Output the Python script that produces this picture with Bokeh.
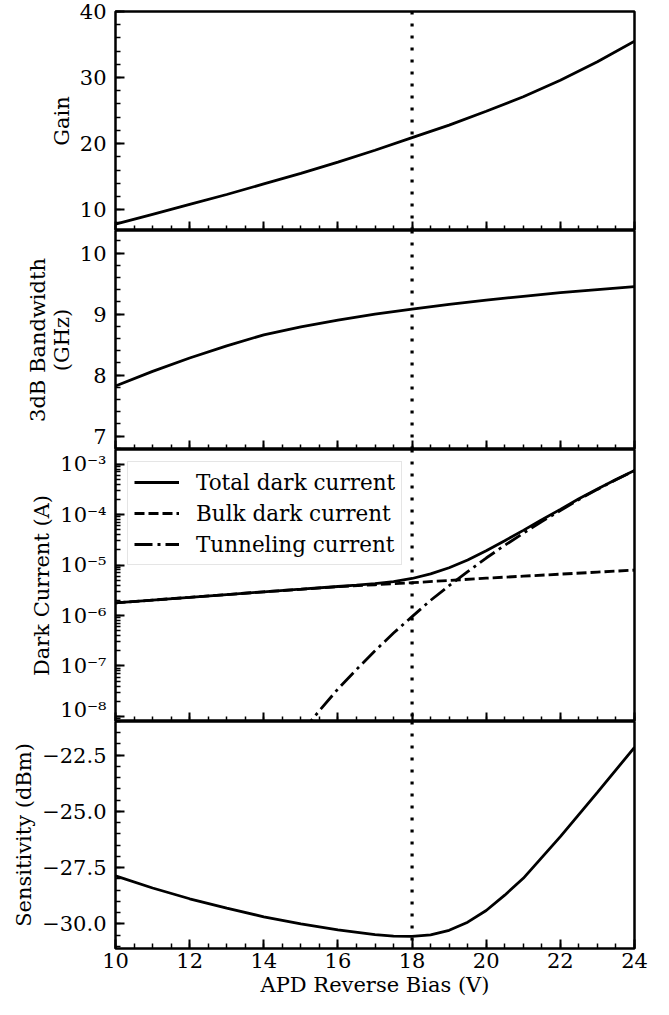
from bokeh.plotting import figure
from bokeh.layouts import column
from bokeh.models import (Range1d, FixedTicker, CustomJSTickFormatter, Span,
                          Legend, LegendItem)
from bokeh.embed import file_html
from bokeh.resources import INLINE

# ---------------- data ----------------
bias = [10, 11, 12, 13, 14, 15, 16, 17, 18, 19, 20, 21, 22, 23, 24]
gain = [7.8, 9.3, 10.8, 12.3, 13.9, 15.5, 17.2, 19.0, 20.9, 22.8, 24.9,
        27.1, 29.6, 32.4, 35.5]
bandwidth = [7.82, 8.06, 8.28, 8.48, 8.66, 8.79, 8.90, 9.00, 9.08, 9.16,
             9.23, 9.29, 9.35, 9.40, 9.45]

bulk_current = [1.78e-6, 2.02e-6, 2.29e-6, 2.60e-6, 2.95e-6, 3.31e-6,
                3.72e-6, 4.07e-6, 4.47e-6, 4.95e-6, 5.50e-6, 6.03e-6,
                6.61e-6, 7.24e-6, 7.94e-6]

tunnel_bias = [15, 15.5, 16, 16.5, 17, 17.5, 18, 18.5, 19, 19.5, 20, 20.5,
               21, 21.5, 22, 22.5, 23, 23.5, 24]
tunnel_current = [4.7e-9, 1.3e-8, 3.5e-8, 8.5e-8, 2.0e-7, 4.5e-7, 9.5e-7,
                  2.0e-6, 3.9e-6, 7.4e-6, 1.38e-5, 2.46e-5, 4.27e-5, 7.3e-5,
                  1.2e-4, 1.99e-4, 3.16e-4, 4.9e-4, 7.4e-4]

total_bias = [10, 11, 12, 13, 14, 15, 16, 16.5, 17, 17.5, 18, 18.5, 19, 19.5,
              20, 20.5, 21, 21.5, 22, 22.5, 23, 23.5, 24]
total_current = [1.78e-6, 2.02e-6, 2.29e-6, 2.60e-6, 2.95e-6, 3.32e-6,
                 3.76e-6, 3.99e-6, 4.27e-6, 4.72e-6, 5.42e-6, 6.7e-6, 8.85e-6,
                 1.26e-5, 1.93e-5, 3.04e-5, 4.87e-5, 7.9e-5, 1.27e-4, 2.06e-4,
                 3.23e-4, 4.98e-4, 7.5e-4]

sens_bias = [10, 11, 12, 13, 14, 15, 16, 17, 17.5, 18, 18.5, 19, 19.5, 20,
             20.5, 21, 22, 23, 24]
sensitivity = [-27.86, -28.40, -28.88, -29.30, -29.68, -30.00, -30.26,
               -30.47, -30.54, -30.55, -30.48, -30.28, -29.92, -29.40,
               -28.72, -27.97, -26.12, -24.15, -22.15]

operating_bias = 18

legend_labels = ["Total dark current", "Bulk dark current", "Tunneling current"]
x_label = "APD Reverse Bias (V)"
y_labels = ["Gain", "3dB Bandwidth\n(GHz)", "Dark Current (A)", "Sensitivity (dBm)"]

x_major = [10, 12, 14, 16, 18, 20, 22, 24]
x_minor = [10 + 0.5 * i for i in range(29)]
gain_major = [10, 20, 30, 40]
gain_minor = [8 + 2 * i for i in range(17)]
bw_major = [7, 8, 9, 10]
bw_minor = [round(6.8 + 0.2 * i, 2) for i in range(19)]
dc_major = [1e-8, 1e-7, 1e-6, 1e-5, 1e-4, 1e-3]
dc_minor = [k * 10.0 ** e for e in range(-9, -2) for k in range(1, 10)]
sens_major = [-30.0, -27.5, -25.0, -22.5]
sens_minor = [-31 + 0.5 * i for i in range(21)]

# ---------------- styling ----------------
FONT = "DejaVu Serif"
FS = "21px"
W = 653
LEFT = 115
RIGHT = 19
LW = 2.8

xr = Range1d(10, 24)


def make_fig(height, y_range, top=0, bottom=0, y_type="linear"):
    p = figure(width=W, height=height, x_range=xr, y_range=y_range,
               y_axis_type=y_type, title=None, output_backend="svg",
               toolbar_location=None, min_border_left=LEFT,
               min_border_right=RIGHT, min_border_top=top,
               min_border_bottom=bottom)
    p.outline_line_color = "black"
    p.outline_line_width = 2.5
    p.xgrid.visible = False
    p.ygrid.visible = False
    p.background_fill_color = "white"
    p.border_fill_color = "white"
    for ax in p.axis:
        ax.axis_line_color = None
        ax.major_tick_in = 9
        ax.major_tick_out = 0
        ax.minor_tick_in = 5
        ax.minor_tick_out = 0
        ax.major_tick_line_width = 2
        ax.minor_tick_line_width = 1.5
        ax.major_tick_line_color = "black"
        ax.minor_tick_line_color = "black"
        ax.major_label_text_font = FONT
        ax.major_label_text_font_size = FS
        ax.major_label_text_line_height = 1.0
        ax.major_label_text_color = "black"
        ax.axis_label_text_font = FONT
        ax.axis_label_text_font_size = FS
        ax.axis_label_text_line_height = 1.0
        ax.axis_label_text_font_style = "normal"
        ax.axis_label_text_color = "black"
    p.xaxis.ticker = FixedTicker(ticks=x_major, minor_ticks=x_minor)
    p.yaxis.major_label_standoff = 9
    p.yaxis.axis_label_standoff = 3
    p.add_layout(Span(location=operating_bias, dimension="height",
                      line_color="black", line_width=3.2, line_dash="3 9"))
    return p


def hide_x_labels(p):
    p.xaxis.major_label_text_font_size = "0px"
    p.xaxis.major_label_standoff = 0
    p.xaxis.formatter = CustomJSTickFormatter(code="return '';")


# Panel 1: gain
p1 = make_fig(230, Range1d(6.85, 40), top=11)
hide_x_labels(p1)
p1.yaxis.ticker = FixedTicker(ticks=gain_major, minor_ticks=gain_minor)
p1.yaxis.axis_label = y_labels[0]
p1.line(bias, gain, line_color="black", line_width=LW)

# Panel 2: bandwidth
p2 = make_fig(219, Range1d(6.78, 10.37))
hide_x_labels(p2)
p2.yaxis.ticker = FixedTicker(ticks=bw_major, minor_ticks=bw_minor)
p2.yaxis.axis_label = y_labels[1]
p2.line(bias, bandwidth, line_color="black", line_width=LW)

# Panel 3: dark current
p3 = make_fig(272, Range1d(10 ** -8.1, 10 ** -2.71), y_type="log")
hide_x_labels(p3)
p3.yaxis.ticker = FixedTicker(ticks=dc_major, minor_ticks=dc_minor)
p3.yaxis.formatter = CustomJSTickFormatter(code="""
const s = {'-':'\u207b','0':'\u2070','1':'\u00b9','2':'\u00b2','3':'\u00b3',
           '4':'\u2074','5':'\u2075','6':'\u2076','7':'\u2077','8':'\u2078','9':'\u2079'};
const e = Math.round(Math.log10(tick));
return '10' + String(e).split('').map(c => s[c]).join('');
""")
p3.yaxis.axis_label = y_labels[2]
r_total = p3.line(total_bias, total_current, line_color="black", line_width=LW)
r_bulk = p3.line(bias, bulk_current, line_color="black", line_width=LW,
                 line_dash="10 4")
r_tun = p3.line(tunnel_bias, tunnel_current, line_color="black", line_width=LW,
                line_dash="18 5 3 5")
legend = Legend(items=[LegendItem(label=legend_labels[0], renderers=[r_total]),
                       LegendItem(label=legend_labels[1], renderers=[r_bulk]),
                       LegendItem(label=legend_labels[2], renderers=[r_tun])],
                location="top_left")
legend.label_text_font = FONT
legend.label_text_font_size = "21.5px"
legend.label_text_color = "black"
legend.glyph_width = 45
legend.glyph_height = 28
legend.label_height = 28
legend.label_standoff = 17
legend.spacing = 3
legend.padding = 6
legend.margin = 12
legend.border_line_color = "#cccccc"
legend.border_line_width = 1.5
legend.background_fill_alpha = 0.8
p3.add_layout(legend)

# Panel 4: sensitivity
p4 = make_fig(278, Range1d(-31.09, -21.0))
p4.yaxis.ticker = FixedTicker(ticks=sens_major, minor_ticks=sens_minor)
p4.yaxis.formatter = CustomJSTickFormatter(
    code="return tick.toFixed(1).replace('-', '\u2212');")
p4.yaxis.axis_label = y_labels[3]
p4.xaxis.axis_label = x_label
p4.xaxis.major_label_standoff = 4
p4.xaxis.axis_label_standoff = 2
p4.line(sens_bias, sensitivity, line_color="black", line_width=LW)

layout = column(p1, p2, p3, p4, spacing=0)
open("out.html", "w").write(file_html(layout, INLINE))
